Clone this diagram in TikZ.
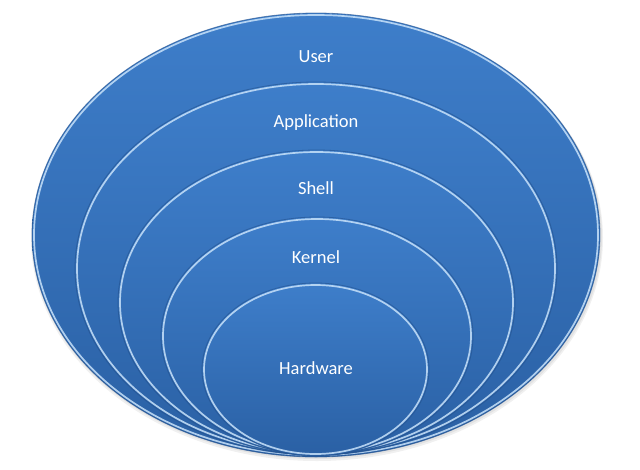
\documentclass[tikz,border=0pt]{standalone}
\usepackage{fontspec}
\setmainfont{Carlito}
\usepackage{tikz}
\usetikzlibrary{calc,positioning}

\definecolor{layertop}{RGB}{62,126,202}
\definecolor{layerbot}{RGB}{42,96,164}
\definecolor{layerrim}{RGB}{200,226,250}
\definecolor{layerdark}{RGB}{34,80,140}

\tikzset{
  layer/.style={top color=layertop, bottom color=layerbot},
  rim/.style={draw=layerrim, line width=1.7pt, opacity=0.85},
  darkrim/.style={draw=layerdark, line width=0.8pt, opacity=0.6},
  shadowring/.style={fill=black, opacity=0.06},
  caption/.style={text=white, font=\fontsize{18.5}{20}\selectfont, inner sep=0pt}
}

\begin{document}
\begin{tikzpicture}[x=1pt,y=-1pt]
\useasboundingbox (0,0) rectangle (640,469);
% soft shadow under the outer ring
\path[shadowring] (317,238) ellipse [x radius=286pt, y radius=223pt];
\path[shadowring] (317,237) ellipse [x radius=285pt, y radius=222pt];

% User
\shade[layer] (316,235) ellipse [x radius=284pt, y radius=222pt];
\path[darkrim] (316,235) ellipse [x radius=284pt, y radius=222pt];
\path[rim] (316,235) ellipse [x radius=282pt, y radius=220pt];
% Application
\shade[layer] (316,268.5) ellipse [x radius=241pt, y radius=186.5pt];
\path[darkrim] (316,268.5) ellipse [x radius=241pt, y radius=186.5pt];
\path[rim] (316,268.5) ellipse [x radius=239pt, y radius=184.5pt];
% Shell
\shade[layer] (316.5,302.5) ellipse [x radius=198.5pt, y radius=152.5pt];
\path[darkrim] (316.5,302.5) ellipse [x radius=198.5pt, y radius=152.5pt];
\path[rim] (316.5,302.5) ellipse [x radius=196.5pt, y radius=150.5pt];
% Kernel
\shade[layer] (317,336) ellipse [x radius=156pt, y radius=119pt];
\path[darkrim] (317,336) ellipse [x radius=156pt, y radius=119pt];
\path[rim] (317,336) ellipse [x radius=154pt, y radius=117pt];
% Hardware
\shade[layer] (315.5,369.5) ellipse [x radius=113.5pt, y radius=86.5pt];
\path[darkrim] (315.5,369.5) ellipse [x radius=113.5pt, y radius=86.5pt];
\path[rim] (315.5,369.5) ellipse [x radius=111.5pt, y radius=84.5pt];

\node[caption] (user) at (316,57) {User};
\node[caption] (application) at (316,123) {Application};
\node[caption] (shell) at (316,188) {Shell};
\node[caption] (kernel) at (316,257) {Kernel};
\node[caption] (hardware) at (316,368) {Hardware};
\end{tikzpicture}
\end{document}
